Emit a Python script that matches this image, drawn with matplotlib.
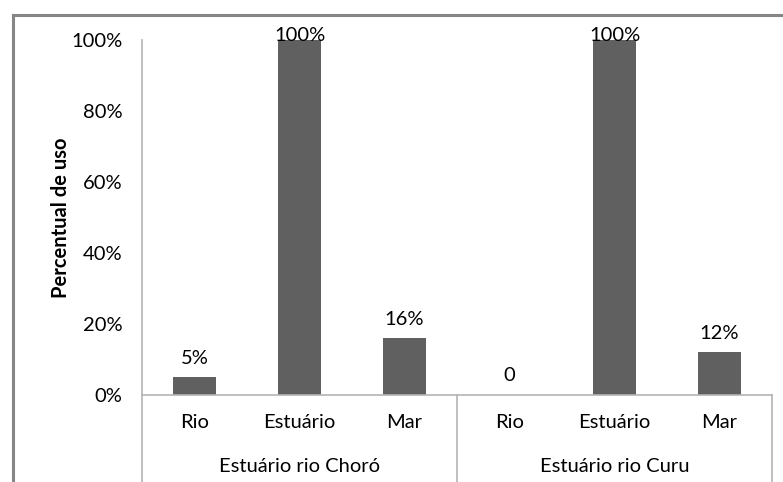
import matplotlib
matplotlib.use("Agg")
import matplotlib.pyplot as plt
from matplotlib.lines import Line2D
import matplotlib.transforms as mtransforms

plt.rcParams['font.family'] = ['Lato', 'DejaVu Sans']

categories = ["Rio", "Estuário", "Mar", "Rio", "Estuário", "Mar"]
groups = ["Estuário rio Choró", "Estuário rio Curu"]
values = [5, 100, 16, 0, 100, 12]
value_labels = ["5%", "100%", "16%", "0", "100%", "12%"]
yticks = [0, 20, 40, 60, 80, 100]
ytick_labels = ["0%", "20%", "40%", "60%", "80%", "100%"]

W, H = 783, 482
fs = 14.5
fig = plt.figure(figsize=(W / 100, H / 100), dpi=100)
fig.patch.set_facecolor("white")

# figure border (chart area)
fig.add_artist(Line2D([13 / W, 13 / W], [0, 1 - 15 / H], color="#868686", lw=2.2, transform=fig.transFigure))
fig.add_artist(Line2D([13 / W, 1], [1 - 15 / H, 1 - 15 / H], color="#868686", lw=2.2, transform=fig.transFigure))

left, right = 142 / W, 772 / W
bottom, top = 1 - 395 / H, 1 - 40 / H
ax = fig.add_axes([left, bottom, right - left, top - bottom])

x = list(range(len(categories)))
ax.bar(x, values, width=0.41, color="#606060", zorder=2)
ax.set_xlim(-0.5, len(categories) - 0.5)
ax.set_ylim(0, 100)

for xi, v, lab in zip(x, values, value_labels):
    ax.text(xi, min(v + 3.0, 99.0), lab, ha="center", va="bottom", fontsize=fs, color="#000000", clip_on=False, zorder=3)

ax.set_yticks(yticks)
ax.set_yticklabels(ytick_labels, fontsize=fs)
ax.tick_params(axis="y", length=0, pad=14)
ax.set_xticks(x)
ax.set_xticklabels(categories, fontsize=fs)
ax.tick_params(axis="x", length=0, pad=14)

for s in ["top", "right"]:
    ax.spines[s].set_visible(False)
ax.spines["left"].set_color("#B4B4B4")
ax.spines["bottom"].set_color("#B4B4B4")
ax.spines["left"].set_linewidth(1.2)
ax.spines["bottom"].set_linewidth(1.2)

ax.set_ylabel("Percentual de uso", fontsize=14.5, fontweight="bold", labelpad=0.5)

trans = mtransforms.blended_transform_factory(ax.transData, ax.transAxes)
axh = 395 - 40
ybot = -(H - 395 + 5) / axh
for xs in [-0.5, 2.5, 5.5]:
    ax.add_line(Line2D([xs, xs], [0, ybot], color="#B4B4B4", lw=1.2, transform=trans, clip_on=False))

ygrp = -(466 - 395) / axh
for gi, g in enumerate(groups):
    ax.text(gi * 3 + 1, ygrp, g, ha="center", va="center", fontsize=fs, transform=trans)

fig.savefig("out.png", dpi=100)
